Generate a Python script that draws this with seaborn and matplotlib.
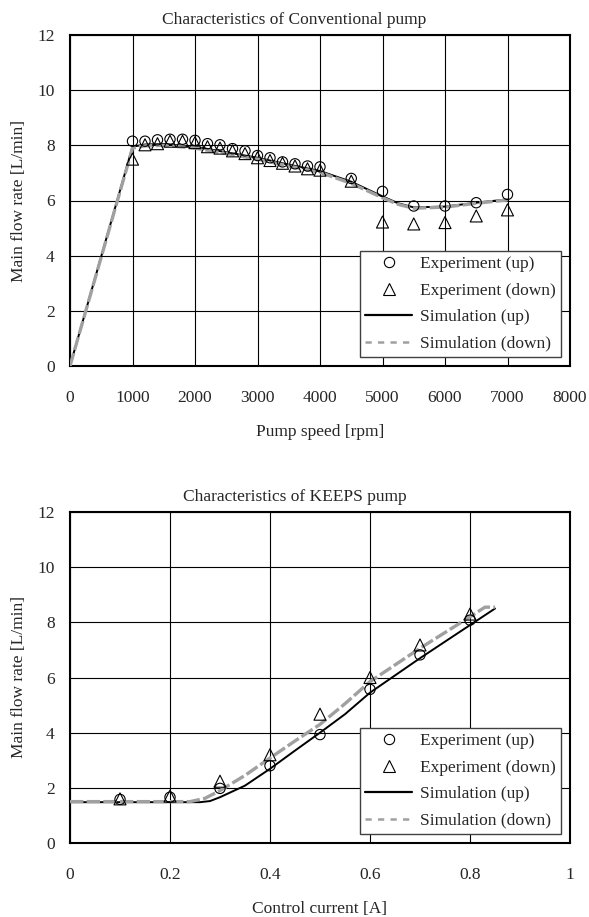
import numpy as np
import pandas as pd
import matplotlib
matplotlib.use("Agg")
import matplotlib.pyplot as plt
from matplotlib.lines import Line2D
import seaborn as sns

# ---------------- data: Conventional pump ----------------
conv_exp_up_x = [1000, 1200, 1400, 1600, 1800, 2000, 2200, 2400, 2600, 2800, 3000,
                 3200, 3400, 3600, 3800, 4000, 4500, 5000, 5500, 6000, 6500, 7000]
conv_exp_up_y = [8.15, 8.15, 8.2, 8.22, 8.22, 8.18, 8.06, 8.02, 7.88, 7.8, 7.63,
                 7.55, 7.4, 7.33, 7.25, 7.22, 6.8, 6.33, 5.8, 5.8, 5.92, 6.22]
conv_exp_dn_x = conv_exp_up_x
conv_exp_dn_y = [7.5, 8.02, 8.06, 8.15, 8.15, 8.1, 7.95, 7.9, 7.8, 7.7, 7.55,
                 7.45, 7.35, 7.25, 7.15, 7.1, 6.7, 5.22, 5.15, 5.2, 5.44, 5.66]
conv_sim_up_x = [0, 1000, 1200, 1500, 2000, 2500, 3000, 3500, 4000, 4500,
                 5000, 5250, 5500, 6000, 6500, 7000]
conv_sim_up_y = [0, 7.95, 8.03, 8.05, 7.95, 7.75, 7.55, 7.3, 7.07, 6.68,
                 6.15, 5.9, 5.75, 5.78, 5.92, 6.04]
conv_sim_dn_x = conv_sim_up_x
conv_sim_dn_y = [0, 7.9, 7.98, 8.0, 7.9, 7.7, 7.5, 7.25, 7.02, 6.62,
                 6.1, 5.86, 5.72, 5.76, 5.9, 6.02]

# ---------------- data: KEEPS pump ----------------
keeps_exp_up_x = [0.1, 0.2, 0.3, 0.4, 0.5, 0.6, 0.7, 0.8]
keeps_exp_up_y = [1.58, 1.66, 1.98, 2.8, 3.93, 5.57, 6.82, 8.08]
keeps_exp_dn_x = keeps_exp_up_x
keeps_exp_dn_y = [1.6, 1.7, 2.24, 3.2, 4.67, 6.0, 7.18, 8.3]
keeps_sim_up_x = [0, 0.26, 0.28, 0.3, 0.35, 0.4, 0.45, 0.5, 0.55, 0.6, 0.7, 0.8, 0.85]
keeps_sim_up_y = [1.48, 1.48, 1.52, 1.66, 2.08, 2.69, 3.35, 4.0, 4.67, 5.45, 6.7, 7.9, 8.5]
keeps_sim_dn_x = [0, 0.24, 0.27, 0.3, 0.35, 0.4, 0.45, 0.5, 0.55, 0.6, 0.7, 0.8, 0.83, 0.85]
keeps_sim_dn_y = [1.5, 1.5, 1.62, 1.9, 2.45, 3.08, 3.7, 4.3, 5.05, 5.85, 7.06, 8.2, 8.55, 8.55]

titles = ["Characteristics of Conventional pump", "Characteristics of KEEPS pump"]
xlabels = ["Pump speed [rpm]", "Control current [A]"]
ylabel = "Main flow rate [L/min]"
legend_labels = ["Experiment (up)", "Experiment (down)", "Simulation (up)", "Simulation (down)"]
conv_xticks = [0, 1000, 2000, 3000, 4000, 5000, 6000, 7000, 8000]
keeps_xticks = [0, 0.2, 0.4, 0.6, 0.8, 1]
keeps_xticklabels = ["0", "0.2", "0.4", "0.6", "0.8", "1"]
yticks = [0, 2, 4, 6, 8, 10, 12]

sns.set_theme(style="white")
plt.rcParams["font.family"] = ["Liberation Serif", "DejaVu Serif"]

W, H = 589, 917
fig = plt.figure(figsize=(W / 100, H / 100), dpi=100)

def rect(l, r, t, b):
    return [l / W, 1 - b / H, (r - l) / W, (b - t) / H]

AX_L, AX_R = 70, 570
ax1 = fig.add_axes(rect(AX_L, AX_R, 35, 366))
ax2 = fig.add_axes(rect(AX_L, AX_R, 512, 843))

GRAY = "#a0a0a0"
FS = 12.5

def draw(ax, ex_up, ex_dn, sim_up, sim_dn, xlim, xticks, xticklabels, xlabel, title):
    for side in ax.spines.values():
        side.set_color("black")
        side.set_linewidth(1.5)
    ax.set_xlim(*xlim)
    ax.set_ylim(0, 12)
    ax.set_xticks(xticks)
    ax.set_xticklabels(xticklabels, fontsize=FS)
    ax.set_yticks(yticks)
    ax.set_yticklabels([str(v) for v in yticks], fontsize=FS)
    ax.grid(True, color="black", linewidth=0.8)
    ax.set_axisbelow(True)
    ax.tick_params(axis="x", length=0, pad=17)
    ax.tick_params(axis="y", length=0, pad=11)

    d_su = pd.DataFrame({"x": sim_up[0], "y": sim_up[1]})
    d_sd = pd.DataFrame({"x": sim_dn[0], "y": sim_dn[1]})
    sns.lineplot(data=d_su, x="x", y="y", ax=ax, color="black", linewidth=1.4,
                 sort=False, estimator=None, zorder=3)
    sns.lineplot(data=d_sd, x="x", y="y", ax=ax, color=GRAY, linewidth=2.4,
                 sort=False, estimator=None, zorder=4, linestyle=(0, (4, 1)))
    d_eu = pd.DataFrame({"x": ex_up[0], "y": ex_up[1]})
    d_ed = pd.DataFrame({"x": ex_dn[0], "y": ex_dn[1]})
    sns.scatterplot(data=d_eu, x="x", y="y", ax=ax, marker="o", s=55,
                    facecolor="none", edgecolor="black", linewidth=0.8, zorder=5)
    sns.scatterplot(data=d_ed, x="x", y="y", ax=ax, marker="^", s=75,
                    facecolor="none", edgecolor="black", linewidth=0.8, zorder=5)

    ax.set_xlabel(xlabel, fontsize=FS, labelpad=13)
    ax.set_ylabel(ylabel, fontsize=FS, labelpad=7)
    ax.set_title(title, fontsize=FS, pad=8, x=(W / 2 - AX_L) / (AX_R - AX_L))

    handles = [
        Line2D([], [], marker="o", linestyle="none", markerfacecolor="none",
               markeredgecolor="black", markersize=7.4, markeredgewidth=0.8),
        Line2D([], [], marker="^", linestyle="none", markerfacecolor="none",
               markeredgecolor="black", markersize=8.8, markeredgewidth=0.8),
        Line2D([], [], color="black", linewidth=1.6),
        Line2D([], [], color=GRAY, linewidth=1.8, linestyle=(0, (2.5, 2.5))),
    ]
    leg = ax.legend(handles, legend_labels, loc="lower right",
                    bbox_to_anchor=(0.982, 0.027), fontsize=FS, frameon=True,
                    fancybox=False, framealpha=1, edgecolor="#404040",
                    handlelength=2.7, handletextpad=0.45, borderpad=0.3,
                    labelspacing=0.6, borderaxespad=0)
    leg.get_frame().set_linewidth(1.0)
    leg.set_zorder(10)

draw(ax1, (conv_exp_up_x, conv_exp_up_y), (conv_exp_dn_x, conv_exp_dn_y),
     (conv_sim_up_x, conv_sim_up_y), (conv_sim_dn_x, conv_sim_dn_y),
     (0, 8000), conv_xticks, [str(v) for v in conv_xticks], xlabels[0], titles[0])
draw(ax2, (keeps_exp_up_x, keeps_exp_up_y), (keeps_exp_dn_x, keeps_exp_dn_y),
     (keeps_sim_up_x, keeps_sim_up_y), (keeps_sim_dn_x, keeps_sim_dn_y),
     (0, 1), keeps_xticks, keeps_xticklabels, xlabels[1], titles[1])

fig.savefig("out.png", dpi=100, facecolor="white")
